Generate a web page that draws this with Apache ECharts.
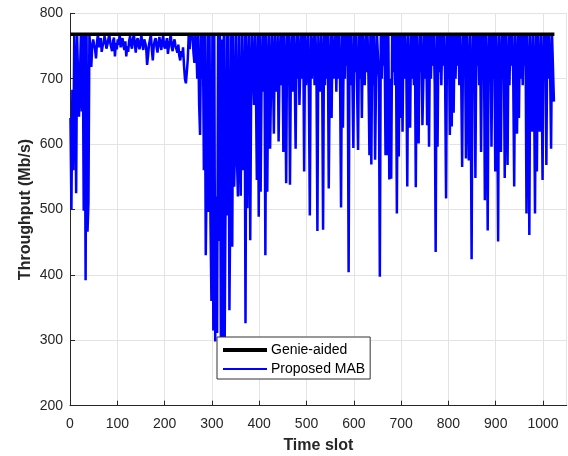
<!DOCTYPE html>
<html><head><meta charset="utf-8">
<script src="https://cdn.jsdelivr.net/npm/echarts/dist/echarts.min.js"></script>
<style>html,body{margin:0;padding:0;background:#fff}#c{width:568px;height:456px}</style>
</head><body><div id="c"></div>
<script>
// Time slot of first MAB sample and spacing between samples
const slotStart = 1;
const slotStep = 2;
// Proposed MAB throughput (Mb/s), one value every 2 time slots
const mab = [
640,500,683,560,768,700,525,768,768,642,700,768,650,768,498,768,392,768,466,510,768,745,718,750,760,
752,745,731,755,768,748,758,762,741,750,755,765,758,746,752,760,768,755,748,742,758,763,734,755,745,
760,752,768,748,756,762,750,744,757,734,750,741,758,765,752,746,760,768,754,740,757,762,750,745,758,
766,752,744,760,755,748,721,735,752,760,768,745,728,750,758,762,748,740,755,764,752,744,758,766,750,
746,755,762,738,750,758,768,748,742,755,760,750,745,740,752,735,728,742,733,748,720,700,693,710,730,
768,745,768,760,768,740,724,768,750,700,768,660,614,768,700,
768,560,768,430,560,768,496,768,480,360,768,315,768,298,520,311,768,452,768,303,760,305,768,300,532,768,491,768,346,520,768,443,768,535,600,
768,576,520,768,600,521,768,560,640,768,326,768,502,700,768,453,690,768,710,660,768,690,545,768,489,768,527,700,768,680,768,430,768,527,700,768,593,690,768,720,616,768,700,680,768,604,720,768,690,768,
588,768,700,540,768,690,768,538,720,768,680,768,710,593,768,700,768,660,720,768,700,768,558,768,690,720,768,680,491,768,700,740,768,690,768,710,467,768,700,680,768,720,469,768,690,768,700,768,532,700,
768,640,768,700,720,768,680,768,700,768,690,503,768,625,768,700,768,720,768,404,768,690,768,700,594,768,710,768,680,591,768,700,768,640,768,720,690,768,710,768,700,583,768,569,768,690,768,576,700,768,
768,700,397,768,700,768,720,768,583,768,583,768,546,700,547,768,710,768,690,768,494,768,581,768,640,768,619,768,700,768,720,535,768,680,625,768,700,768,690,768,534,768,700,601,768,710,768,629,700,768,
700,768,629,768,596,768,700,768,720,768,690,435,768,596,768,710,768,690,768,720,768,700,517,768,700,768,614,768,627,768,648,768,700,768,720,768,690,768,700,565,768,710,768,578,768,700,575,768,690,424,
768,700,768,548,768,720,768,690,768,588,768,700,768,514,768,700,468,768,710,768,596,768,700,768,558,768,700,451,768,720,588,768,700,768,548,768,700,568,768,690,768,720,768,700,535,768,710,616,768,640,
768,700,768,690,768,720,768,494,768,700,461,768,700,619,768,700,494,768,558,768,700,619,768,700,545,768,700,768,568,768,700,768,710,593,768,768,665
];
// Genie-aided throughput (Mb/s) at first and last slot
const genieSlots = [1, 1024];
const genie = [768, 768];
const seriesNames = ['Genie-aided', 'Proposed MAB'];

const FONT = '"Liberation Sans", Arial, Helvetica, sans-serif';
// legend line icons: tiny corner dots fix the 44x14 box, a band draws the line
const icon = (y0, y1) => 'path://M0,0L0.01,0L0,0.01Z M44,14L43.99,14L44,13.99Z M0,' + y0 + 'H44V' + y1 + 'H0Z';
const chart = echarts.init(document.getElementById('c'), null, {renderer: 'canvas'});
chart.setOption({
  animation: false,
  backgroundColor: '#fff',
  grid: {left: 70, right: 1.3, top: 13.3, bottom: 50.3, containLabel: false, outerBoundsMode: 'none'},
  legend: {
    orient: 'vertical', left: 217, top: 337,
    data: [
      {name: seriesNames[0], icon: icon(5, 9), itemStyle: {color: '#000'}},
      {name: seriesNames[1], icon: icon(6, 8), itemStyle: {color: '#0000ff'}}
    ],
    backgroundColor: '#fff', borderColor: '#333', borderWidth: 1,
    padding: [6, 5, 3, 6], itemGap: 5, itemWidth: 44, itemHeight: 14,
    textStyle: {fontFamily: FONT, fontSize: 14, color: '#000', padding: [0,0,0,-1]}
  },
  xAxis: {
    type: 'value', min: 0, max: 1050, interval: 100,
    name: 'Time slot', nameLocation: 'middle', nameGap: 32, nameMoveOverlap: false,
    nameTextStyle: {fontFamily: FONT, fontSize: 16, fontWeight: 'bold', color: '#262626'},
    axisLine: {onZero: false, lineStyle: {color: '#262626', width: 1}},
    axisTick: {inside: true, length: 5, lineStyle: {color: '#262626'}},
    axisLabel: {fontFamily: FONT, fontSize: 14, color: '#262626', margin: 11, showMaxLabel: false,
      formatter: v => (v % 100 === 0 ? String(v) : '')},
    splitLine: {show: true, lineStyle: {color: '#e3e3e3', width: 1}}
  },
  yAxis: {
    type: 'value', min: 200, max: 800, interval: 100,
    name: 'Throughput (Mb/s)', nameLocation: 'middle', nameGap: 36, nameMoveOverlap: false,
    nameTextStyle: {fontFamily: FONT, fontSize: 16, fontWeight: 'bold', color: '#262626'},
    axisLine: {show: true, lineStyle: {color: '#262626', width: 1}},
    axisTick: {show: true, inside: true, length: 5, lineStyle: {color: '#262626'}},
    axisLabel: {fontFamily: FONT, fontSize: 14, color: '#262626', margin: 7},
    splitLine: {show: true, lineStyle: {color: '#e3e3e3', width: 1}}
  },
  series: [
    {
      name: seriesNames[0], type: 'line', symbol: 'none', z: 4,
      data: genie.map((v, i) => [genieSlots[i], v]),
      lineStyle: {color: '#000', width: 3.5}, itemStyle: {color: '#000'}
    },
    {
      name: seriesNames[1], type: 'line', symbol: 'none', z: 3, sampling: null,
      data: mab.map((v, i) => [slotStart + i * slotStep, v]),
      lineStyle: {color: '#0000ff', width: 2.5}, itemStyle: {color: '#0000ff'}
    }
  ]
});
</script></body></html>
